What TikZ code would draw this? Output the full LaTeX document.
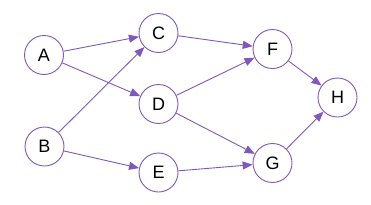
\documentclass[tikz,border=0pt]{standalone}
\usepackage{fontspec}
\setmainfont{Liberation Sans}
\usetikzlibrary{arrows.meta}
\definecolor{pur}{RGB}{126,88,190}
\begin{document}
\begin{tikzpicture}[x=1pt,y=-1pt,
  vertex/.style={circle,draw=pur,line width=0.9pt,minimum size=39pt,inner sep=0pt,fill=white,font=\fontsize{18}{20}\selectfont},
  edge/.style={draw=pur,line width=0.9pt,-{Triangle[length=10pt,width=8pt]}}]
\useasboundingbox (0,0) rectangle (371,204);
\node[vertex] (A) at (44,55) {A};
\node[vertex] (B) at (44.5,146.5) {B};
\node[vertex] (C) at (158.5,33) {C};
\node[vertex] (D) at (158.5,104) {D};
\node[vertex] (E) at (158.5,172.5) {E};
\node[vertex] (F) at (272.5,49) {F};
\node[vertex] (G) at (272.5,163) {G};
\node[vertex] (H) at (337.5,97.5) {H};
\draw[edge] (A) -- (C);
\draw[edge] (A) -- (D);
\draw[edge] (B) -- (C);
\draw[edge] (B) -- (E);
\draw[edge] (C) -- (F);
\draw[edge] (D) -- (F);
\draw[edge] (D) -- (G);
\draw[edge] (E) -- (G);
\draw[edge] (F) -- (H);
\draw[edge] (G) -- (H);
\end{tikzpicture}
\end{document}
